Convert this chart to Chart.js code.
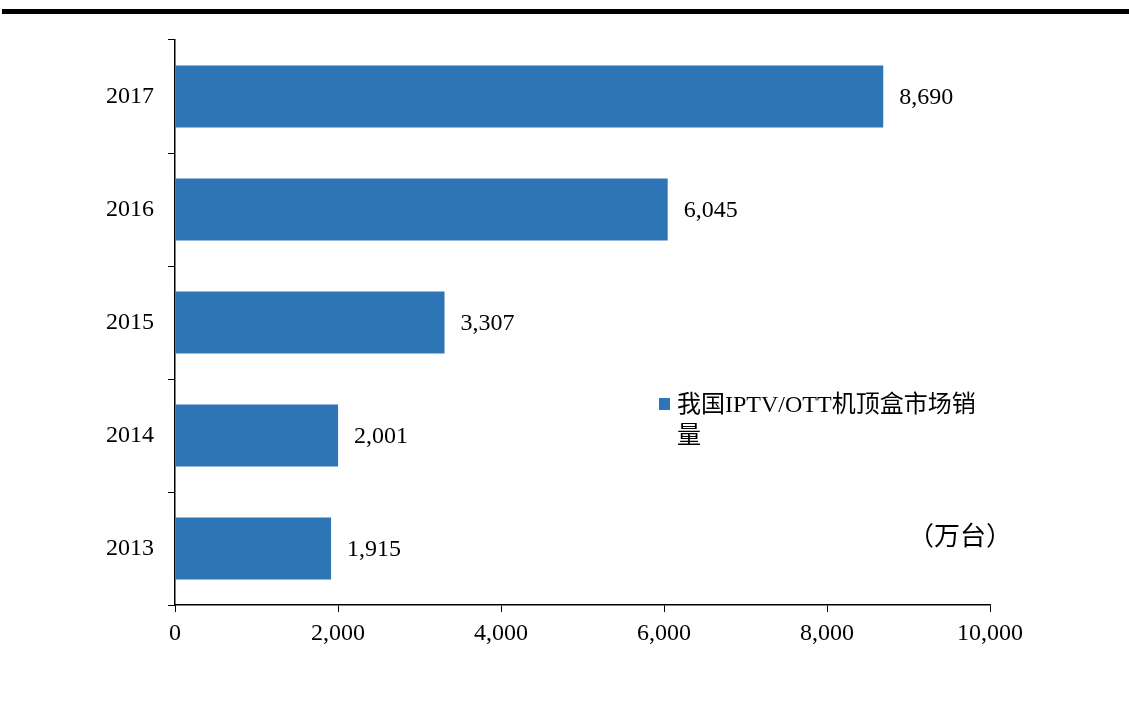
<!DOCTYPE html>
<html>
<head>
<meta charset="utf-8">
<script src="https://cdn.jsdelivr.net/npm/chart.js@4"></script>
<style>
html,body{margin:0;padding:0;background:#fff;}
#wrap{width:1129px;height:717px;position:relative;}
</style>
</head>
<body>
<div id="wrap"><canvas id="c" width="1129" height="717"></canvas></div>
<script>
const categories = ['2013', '2014', '2015', '2016', '2017'];
const salesValues = [1915, 2001, 3307, 6045, 8690];
const seriesName = '我国IPTV/OTT机顶盒市场销量';
const legendLines = ['我国IPTV/OTT机顶盒市场销', '量'];
const unitLabel = '（万台）';
const xTicks = [0, 2000, 4000, 6000, 8000, 10000];

const FONT = '"Liberation Serif", "Times New Roman", "Noto Sans CJK SC", serif';
const BAR_COLOR = '#2E75B6';

const fmt = v => v.toLocaleString('en-US');

const decorPlugin = {
  id: 'decor',
  beforeDraw(chart) {
    const ctx = chart.ctx;
    ctx.save();
    ctx.fillStyle = '#fff';
    ctx.fillRect(0, 0, chart.width, chart.height);
    ctx.fillStyle = '#000';
    ctx.fillRect(2, 9, chart.width - 2, 5);
    ctx.restore();
  },
  afterDatasetsDraw(chart) {
    const ctx = chart.ctx;
    ctx.save();
    ctx.font = '24px ' + FONT;
    ctx.fillStyle = '#000';
    ctx.textBaseline = 'middle';
    ctx.textAlign = 'left';
    const meta = chart.getDatasetMeta(0);
    meta.data.forEach((bar, i) => {
      ctx.fillText(fmt(chart.data.datasets[0].data[i]), bar.x + 16, bar.y + 1);
    });
    // legend
    ctx.fillStyle = chart.data.datasets[0].backgroundColor;
    ctx.fillRect(659, 398, 11, 12);
    ctx.fillStyle = '#000';
    ctx.fillText(legendLines[0], 677, 406);
    ctx.fillText(legendLines[1], 677, 437);
    // unit
    ctx.font = '26px ' + FONT;
    ctx.fillText(unitLabel, 908, 538);
    ctx.restore();
  }
};

new Chart(document.getElementById('c'), {
  type: 'bar',
  data: {
    labels: categories,
    datasets: [{
      label: seriesName,
      data: salesValues,
      backgroundColor: BAR_COLOR,
      borderWidth: 0,
      categoryPercentage: 1,
      barPercentage: 0.55
    }]
  },
  options: {
    indexAxis: 'y',
    responsive: false,
    animation: false,
    devicePixelRatio: 1,
    layout: { padding: { left: 0, right: 139, top: 40, bottom: 0 } },
    plugins: {
      legend: { display: false },
      tooltip: { enabled: false },
      title: { display: false }
    },
    scales: {
      x: {
        type: 'linear',
        min: 0,
        max: 10000,
        afterBuildTicks(axis) { axis.ticks = xTicks.map(v => ({ value: v })); },
        afterFit(axis) { axis.height = 112; },
        grid: { drawOnChartArea: false, drawTicks: true, tickLength: 7, color: '#000', lineWidth: 1 },
        border: { display: true, color: '#000', width: 1.5 },
        ticks: {
          color: '#000',
          font: { family: FONT, size: 24 },
          padding: 7,
          maxRotation: 0,
          callback: v => fmt(v)
        }
      },
      y: {
        type: 'category',
        reverse: true,
        offset: true,
        afterFit(axis) { axis.width = 175; },
        grid: { drawOnChartArea: false, drawTicks: true, tickLength: 7, offset: true, color: '#000', lineWidth: 1 },
        border: { display: true, color: '#000', width: 1.5 },
        ticks: {
          color: '#000',
          font: { family: FONT, size: 24 },
          padding: 14
        }
      }
    }
  },
  plugins: [decorPlugin]
});
</script>
</body>
</html>
